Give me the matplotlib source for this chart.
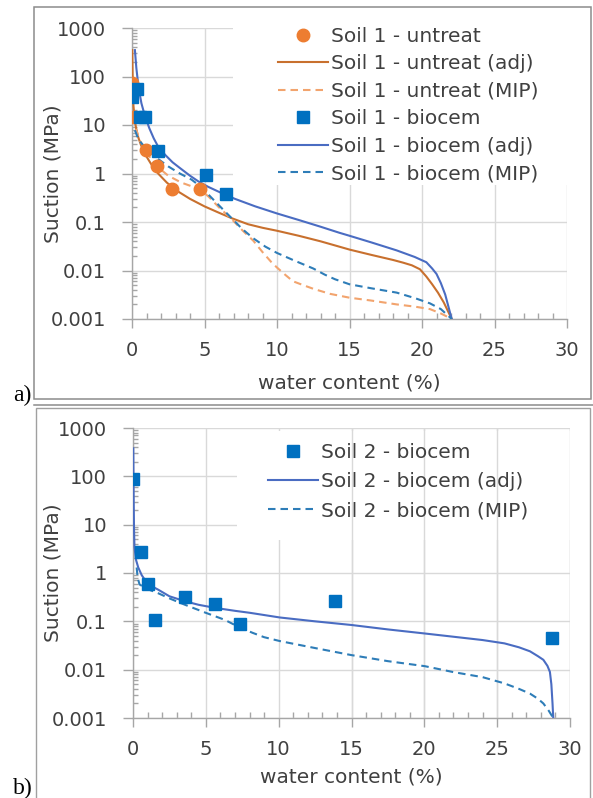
import matplotlib
matplotlib.use("Agg")
import matplotlib.pyplot as plt
from matplotlib.patches import Rectangle
from matplotlib.lines import Line2D
from matplotlib.ticker import MultipleLocator, LogLocator, NullFormatter

# ---------------- data ----------------
x_ticks = [0, 5, 10, 15, 20, 25, 30]
x_tick_labels = ["0", "5", "10", "15", "20", "25", "30"]
y_ticks = [0.001, 0.01, 0.1, 1, 10, 100, 1000]
y_tick_labels = ["0.001", "0.01", "0.1", "1", "10", "100", "1000"]

# Panel a - Soil 1
s1_untreat_x = [0.0, 0.12, 0.94, 1.7, 2.78, 4.69]
s1_untreat_y = [74, 14.6, 3.0, 1.4, 0.49, 0.49]
s1_untreat_adj_x = [0.02, 0.04, 0.07, 0.1, 0.2, 0.3, 0.43, 0.6, 0.9, 1.3, 1.8, 2.4, 3.1, 4.0,
                    5.0, 6.0, 6.87, 8.0, 9.0, 10.0, 11.5, 13.0, 14.3, 15.0, 16.5, 18.0, 18.7,
                    19.3, 19.86, 20.3, 20.7, 21.1, 21.5, 22.05]
s1_untreat_adj_y = [350, 120, 45, 25, 12, 8, 5.6, 4.0, 2.5, 1.6, 1.0, 0.65, 0.44, 0.30,
                    0.21, 0.155, 0.12, 0.09, 0.076, 0.066, 0.052, 0.040, 0.031, 0.027, 0.021,
                    0.0165, 0.0145, 0.0128, 0.0106, 0.0075, 0.0052, 0.0035, 0.0022, 0.001]
s1_untreat_mip_x = [0.15, 0.3, 0.5, 0.94, 1.3, 1.8, 2.5, 3.4, 4.0, 4.69, 5.3, 6.0, 6.87, 7.6,
                    8.37, 9.0, 9.6, 10.0, 10.6, 11.1, 11.8, 12.5, 13.66, 15.0, 16.5, 18.25,
                    19.5, 20.55, 21.3, 22.05]
s1_untreat_mip_y = [15, 8, 5, 3.0, 2.0, 1.34, 0.9, 0.65, 0.56, 0.47, 0.33, 0.2, 0.115, 0.068,
                    0.041, 0.024, 0.015, 0.0115, 0.008, 0.006, 0.0050, 0.0042, 0.0033, 0.00275,
                    0.0024, 0.0020, 0.0018, 0.0016, 0.0013, 0.001]
s1_biocem_x = [0.0, 0.32, 0.55, 0.9, 1.81, 5.1, 6.48]
s1_biocem_y = [38, 56, 14.6, 14.6, 2.9, 0.91, 0.38]
s1_biocem_adj_x = [0.2, 0.3, 0.45, 0.65, 0.9, 1.2, 1.5, 1.8, 2.3, 2.8, 3.3, 4.0, 4.6, 5.26,
                   6.3, 7.1, 8.5, 10.0, 11.5, 13.0, 14.3, 15.0, 16.5, 18.25, 19.5, 20.3,
                   20.7, 21.0, 21.3, 21.6, 22.05]
s1_biocem_adj_y = [350, 150, 60, 28, 15, 8.5, 5.3, 3.6, 2.4, 1.7, 1.3, 0.9, 0.68, 0.53,
                   0.38, 0.3, 0.21, 0.15, 0.11, 0.08, 0.06, 0.052, 0.038, 0.026, 0.019,
                   0.0148, 0.011, 0.0085, 0.0055, 0.0032, 0.001]
s1_biocem_mip_x = [0.2, 0.4, 0.6, 1.0, 1.7, 2.5, 3.3, 4.1, 4.69, 5.3, 6.0, 6.87, 7.6, 8.37,
                   9.2, 10.0, 11.2, 12.5, 13.3, 14.0, 15.0, 16.5, 18.25, 19.5, 20.55, 21.3,
                   22.05]
s1_biocem_mip_y = [7.8, 5.5, 4.4, 3.2, 2.1, 1.4, 1.0, 0.75, 0.55, 0.36, 0.22, 0.12, 0.072,
                   0.046, 0.031, 0.023, 0.016, 0.011, 0.0082, 0.0066, 0.0052, 0.0043, 0.0035,
                   0.0027, 0.0021, 0.0016, 0.001]

# Panel b - Soil 2
s2_biocem_x = [0.02, 0.53, 1.05, 1.51, 3.57, 5.63, 7.34, 13.86, 28.78]
s2_biocem_y = [87, 2.75, 0.58, 0.107, 0.32, 0.225, 0.088, 0.265, 0.045]
s2_biocem_adj_x = [0.02, 0.03, 0.05, 0.07, 0.1, 0.2, 0.36, 0.6, 0.82, 1.2, 1.74, 2.5, 3.57,
                   4.5, 5.63, 7.0, 8.03, 10.09, 12.5, 15.0, 17.5, 20.04, 22.0, 24.0, 25.5,
                   26.5, 27.25, 27.8, 28.17, 28.45, 28.62, 28.72, 28.8, 28.85]
s2_biocem_adj_y = [380, 120, 25, 8, 3.5, 1.9, 1.3, 0.9, 0.72, 0.55, 0.45, 0.33, 0.26,
                   0.22, 0.19, 0.165, 0.15, 0.12, 0.1, 0.084, 0.068, 0.056, 0.048, 0.041,
                   0.035, 0.029, 0.024, 0.019, 0.016, 0.012, 0.009, 0.005, 0.002, 0.001]
s2_biocem_mip_x = [0.25, 0.32, 0.45, 0.8, 1.2, 1.74, 2.6, 3.57, 5.0, 6.31, 7.2, 8.2, 9.0,
                   10.09, 12.5, 15.0, 17.5, 20.04, 22.0, 24.0, 25.5, 26.5, 27.25, 27.8,
                   28.17, 28.55, 28.85]
s2_biocem_mip_y = [1.3, 0.8, 0.58, 0.5, 0.44, 0.38, 0.29, 0.22, 0.15, 0.107, 0.078, 0.058,
                   0.047, 0.039, 0.028, 0.02, 0.015, 0.0118, 0.0089, 0.0070, 0.0052, 0.0040,
                   0.0032, 0.0025, 0.002, 0.0014, 0.001]

# ---------------- style ----------------
W, H = 593, 798
FONT = "DejaVu Sans"
TXT = "#404040"
GRID = "#d9d9d9"
AXC = "#a6a6a6"
ORANGE_PT = "#ED7D31"
ORANGE_ADJ = "#C8702E"
ORANGE_MIP = "#F2A46E"
BLUE_PT = "#0070C0"
BLUE_ADJ = "#4A6CC2"
BLUE_MIP = "#2E7DB8"
DASH = (3.6, 2.4)
MS = 9

plt.rcParams["font.family"] = [FONT]

fig = plt.figure(figsize=(W / 100, H / 100), dpi=100)
fig.patch.set_facecolor("white")


def fx(px):
    return px / W


def fy(py):
    return 1 - py / H


def make_axes(left, right, top, bottom):
    return fig.add_axes([fx(left), fy(bottom), (right - left) / W, (bottom - top) / H])


def style(ax):
    ax.set_yscale("log")
    ax.set_xlim(0, 30)
    ax.set_ylim(1e-3, 1e3)
    ax.set_xticks(x_ticks)
    ax.set_xticklabels(x_tick_labels)
    ax.set_yticks(y_ticks)
    ax.set_yticklabels(y_tick_labels)
    ax.xaxis.set_minor_locator(MultipleLocator(1))
    ax.yaxis.set_minor_locator(LogLocator(base=10, subs=range(2, 10), numticks=20))
    ax.yaxis.set_minor_formatter(NullFormatter())
    ax.tick_params(axis="x", which="major", direction="out", length=6.5, width=1,
                   color=AXC, pad=9.5, labelsize=14, labelcolor=TXT)
    ax.tick_params(axis="y", which="major", direction="out", length=7.2, width=1,
                   color=AXC, pad=11.5, labelsize=14, labelcolor=TXT)
    ax.tick_params(axis="x", which="minor", direction="in", length=4.3, width=1, color=AXC)
    ax.tick_params(axis="y", which="minor", direction="in", length=3.6, width=1, color=AXC)
    for s in ("top", "right"):
        ax.spines[s].set_visible(False)
    for s in ("left", "bottom"):
        ax.spines[s].set_color(AXC)
        ax.spines[s].set_linewidth(1)
    ax.grid(True, which="major", color=GRID, lw=1.0)
    ax.set_facecolor("white")


# ---------------- panel a ----------------
axa = make_axes(132, 567, 28, 319)
style(axa)
axa.add_patch(Rectangle(((233 - 132) / 435, (319 - 185) / 291), 1.2, 1.0,
                        transform=axa.transAxes, facecolor="white", edgecolor="none",
                        zorder=1.8, clip_on=False))
axa.plot(s1_untreat_x, s1_untreat_y, "o", color=ORANGE_PT, ms=MS, mec=ORANGE_PT,
         label="Soil 1 - untreat", zorder=4)
axa.plot(s1_untreat_adj_x, s1_untreat_adj_y, "-", color=ORANGE_ADJ, lw=1.5,
         label="Soil 1 - untreat (adj)", zorder=3)
axa.plot(s1_untreat_mip_x, s1_untreat_mip_y, "--", color=ORANGE_MIP, lw=1.5, dashes=DASH,
         label="Soil 1 - untreat (MIP)", zorder=3)
axa.plot(s1_biocem_x, s1_biocem_y, "s", color=BLUE_PT, ms=MS, mec=BLUE_PT,
         label="Soil 1 - biocem", zorder=4)
axa.plot(s1_biocem_adj_x, s1_biocem_adj_y, "-", color=BLUE_ADJ, lw=1.5,
         label="Soil 1 - biocem (adj)", zorder=3)
axa.plot(s1_biocem_mip_x, s1_biocem_mip_y, "--", color=BLUE_MIP, lw=1.5, dashes=DASH,
         label="Soil 1 - biocem (MIP)", zorder=3)
leg = axa.legend(loc="upper left", bbox_to_anchor=(fx(278), fy(27)),
                 bbox_transform=fig.transFigure, frameon=False, borderpad=0,
                 borderaxespad=0, handlelength=2.5, handletextpad=0.12,
                 labelspacing=0.42, prop={"size": 14.5, "family": FONT})
for t in leg.get_texts():
    t.set_color(TXT)

fig.text(fx(53), fy(173.5), "Suction (MPa)", rotation=90, ha="center", va="center",
         size=14.5, color=TXT)
fig.text(fx(349), fy(383), "water content (%)", ha="center", va="center",
         size=14.5, color=TXT)

# ---------------- panel b ----------------
axb = make_axes(133, 570, 428, 718)
style(axb)
axb.add_patch(Rectangle(((237 - 133) / 437, (718 - 540) / 290), 1.2, (540 - 431) / 290,
                        transform=axb.transAxes, facecolor="white", edgecolor="none",
                        zorder=1.8, clip_on=False))
for v in x_ticks[3:]:
    axb.axvline(v, color=GRID, lw=1.0, zorder=1.9)
axb.plot(s2_biocem_x, s2_biocem_y, "s", color=BLUE_PT, ms=MS, mec=BLUE_PT,
         label="Soil 2 - biocem", zorder=4)
axb.plot(s2_biocem_adj_x, s2_biocem_adj_y, "-", color=BLUE_ADJ, lw=1.5,
         label="Soil 2 - biocem (adj)", zorder=3)
axb.plot(s2_biocem_mip_x, s2_biocem_mip_y, "--", color=BLUE_MIP, lw=1.5, dashes=DASH,
         label="Soil 2 - biocem (MIP)", zorder=3)
legb = axb.legend(loc="upper left", bbox_to_anchor=(fx(268), fy(443)),
                  bbox_transform=fig.transFigure, frameon=False, borderpad=0,
                  borderaxespad=0, handlelength=2.5, handletextpad=0.12,
                  labelspacing=0.5, prop={"size": 14.5, "family": FONT})
for t in legb.get_texts():
    t.set_color(TXT)

fig.text(fx(53), fy(573), "Suction (MPa)", rotation=90, ha="center", va="center",
         size=14.5, color=TXT)
fig.text(fx(351), fy(777), "water content (%)", ha="center", va="center",
         size=14.5, color=TXT)

# ---------------- frames and panel letters ----------------
fig.add_artist(Rectangle((fx(34), fy(399)), (591 - 34) / W, (399 - 7) / H,
                         transform=fig.transFigure, fill=False, edgecolor="#8c8c8c", lw=1.1))
fig.add_artist(Line2D([fx(34), 1.0], [fy(405), fy(405)], transform=fig.transFigure,
                      color="#8c8c8c", lw=1.1))
fig.add_artist(Rectangle((fx(36), fy(805)), (590 - 36) / W, (805 - 408) / H,
                         transform=fig.transFigure, fill=False, edgecolor="#a0a0a0", lw=1.0))
fig.text(fx(13), fy(401), "a)", family="Liberation Serif", size=17, va="baseline",
         ha="left", color="black")
fig.text(fx(13), fy(794), "b)", family="Liberation Serif", size=17, va="baseline",
         ha="left", color="black")

fig.savefig("out.png", dpi=100, facecolor="white")
